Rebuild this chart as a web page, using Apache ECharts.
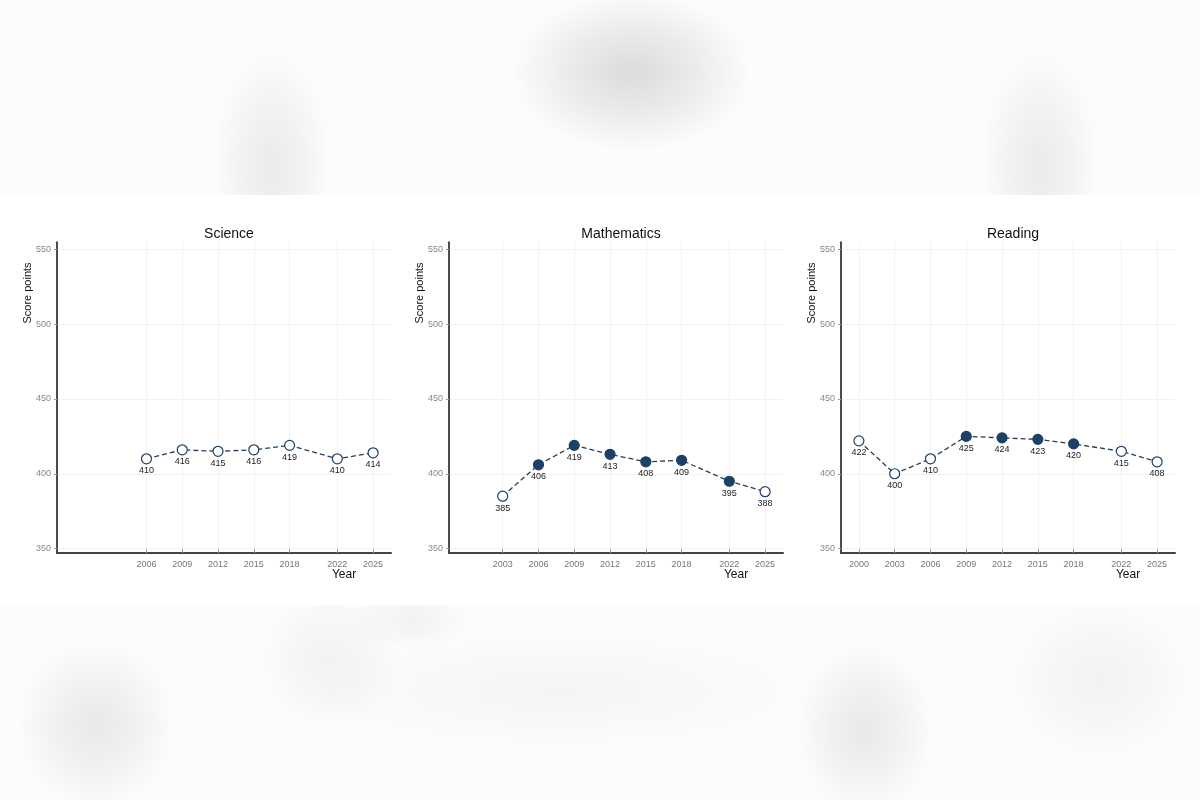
<!DOCTYPE html>
<html><head><meta charset="utf-8">
<script src="https://cdn.jsdelivr.net/npm/echarts@6/dist/echarts.min.js"></script>
<style>html,body{margin:0;padding:0;background:#fcfcfc}#c{width:1200px;height:800px}</style>
</head><body><div id="c"></div>
<script>
const scienceYears=[2006,2009,2012,2015,2018,2022,2025];
const scienceScores=[410,416,415,416,419,410,414];
const scienceFilled=[0,0,0,0,0,0,0];
const mathYears=[2003,2006,2009,2012,2015,2018,2022,2025];
const mathScores=[385,406,419,413,408,409,395,388];
const mathFilled=[0,1,1,1,1,1,1,0];
const readingYears=[2000,2003,2006,2009,2012,2015,2018,2022,2025];
const readingScores=[422,400,410,425,424,423,420,415,408];
const readingFilled=[0,0,0,1,1,1,1,0,0];
const yTicks=[350,400,450,500,550];
const panelTitles=['Science','Mathematics','Reading'];
const yAxisTitle='Score points';
const xAxisTitle='Year';

const panels=[
  {title:panelTitles[0],years:scienceYears,scores:scienceScores,filled:scienceFilled},
  {title:panelTitles[1],years:mathYears,scores:mathScores,filled:mathFilled},
  {title:panelTitles[2],years:readingYears,scores:readingScores,filled:readingFilled}
];
const NAVY='#1d4066';
const FONT='Liberation Sans, Arial, sans-serif';
const gridLefts=[57,449,841];
const gridW=334, gridTop=242, gridH=311;

const chart=echarts.init(document.getElementById('c'),null,{renderer:'canvas'});

function blob(cx,cy,rx,ry,a){
  return {type:'circle',z:-99,shape:{cx:0,cy:0,r:rx},x:cx,y:cy,scaleX:1,scaleY:ry/rx,silent:true,
    style:{fill:new echarts.graphic.RadialGradient(0.5,0.5,0.5,[
      {offset:0,color:'rgba(0,0,0,'+a+')'},{offset:0.5,color:'rgba(0,0,0,'+(a*0.55)+')'},{offset:1,color:'rgba(0,0,0,0)'}])}};
}
const graphics=[
  {type:'rect',z:-100,silent:true,shape:{x:0,y:0,width:1200,height:800},style:{fill:'#fcfcfc'}},
  blob(632,72,120,80,0.13),
  blob(272,165,60,115,0.07),
  blob(1040,165,60,115,0.07),
  blob(96,725,80,85,0.08),
  blob(865,730,70,85,0.08),
  blob(560,690,260,60,0.03),
  blob(330,660,70,70,0.04),
  blob(1100,680,90,80,0.04),
  blob(410,620,60,30,0.04),
  {type:'rect',z:-98,silent:true,shape:{x:0,y:195,width:1200,height:410},style:{fill:'#ffffff'}}
];
panels.forEach((p,i)=>{
  const L=gridLefts[i];
  graphics.push({type:'text',x:L-29,y:293,rotation:Math.PI/2,style:{text:yAxisTitle,x:0,y:0,align:'center',verticalAlign:'middle',fontSize:11,fill:'#111',fontFamily:FONT}});
  graphics.push({type:'text',x:L+gridW-47,y:575,style:{text:xAxisTitle,align:'center',verticalAlign:'middle',fontSize:12,fill:'#111',fontFamily:FONT}});
});

const option={
  backgroundColor:'transparent',
  animation:false,
  graphic:graphics,
  title:panels.map((p,i)=>({text:p.title,left:gridLefts[i]+gridW/2,top:222,textAlign:'center',
    textStyle:{fontSize:14,fontWeight:'normal',color:'#111',fontFamily:FONT}})),
  grid:panels.map((p,i)=>({left:gridLefts[i],top:gridTop,width:gridW,height:gridH,containLabel:false})),
  xAxis:panels.map((p,i)=>({type:'value',gridIndex:i,min:1998.5,max:2026.5,
    axisLine:{show:true,lineStyle:{color:'#444',width:2}},
    axisTick:{show:true,inside:true,length:4,customValues:p.years,lineStyle:{color:'#999'}},
    axisLabel:{customValues:p.years,fontSize:9,color:'#777',margin:7,fontFamily:FONT,formatter:v=>String(v)},
    splitLine:{show:true,lineStyle:{color:'#f2f2f2',width:1}}})),
  yAxis:panels.map((p,i)=>({type:'value',gridIndex:i,min:347,max:555,
    axisLine:{show:true,lineStyle:{color:'#111',width:1.5}},
    axisTick:{show:true,inside:false,length:3,customValues:yTicks,lineStyle:{color:'#999'}},
    axisLabel:{customValues:yTicks,fontSize:9,color:'#888',margin:6,fontFamily:FONT},
    splitLine:{show:true,lineStyle:{color:'#f2f2f2',width:1}}})),
  series:panels.map((p,i)=>({type:'line',xAxisIndex:i,yAxisIndex:i,
    symbol:'circle',symbolSize:10,
    lineStyle:{color:'#2a3d55',width:1.3,type:[5,3]},
    label:{show:true,position:'bottom',distance:2,fontSize:9,color:'#222',fontFamily:FONT,formatter:d=>String(d.value[1])},
    data:p.years.map((y,k)=>({value:[y,p.scores[k]],
      itemStyle:{color:p.filled[k]?NAVY:'#ffffff',borderColor:NAVY,borderWidth:1.2,opacity:1}}))}))
};
chart.setOption(option);
</script></body></html>
